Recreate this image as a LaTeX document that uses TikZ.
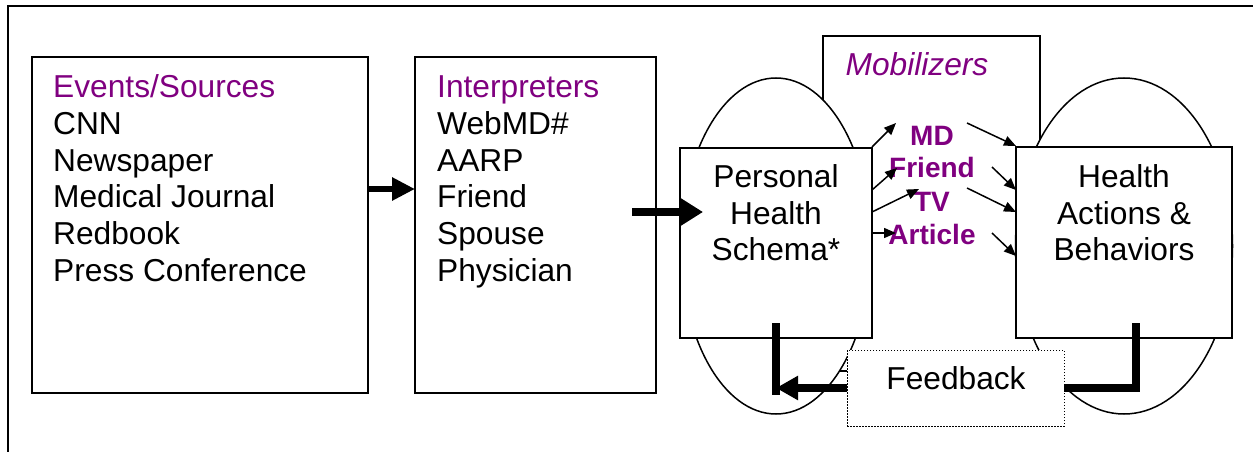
\documentclass[tikz,border=0pt]{standalone}
\usepackage{fontspec}
\setmainfont{Liberation Sans}
\usetikzlibrary{arrows.meta,shapes.geometric}
\definecolor{mpurple}{HTML}{800080}
\begin{document}
\begin{tikzpicture}[x=1pt,y=-1pt,
  box/.style={draw,line width=2pt,fill=white,inner sep=0pt,outer sep=0pt,anchor=north west},
  oval/.style={draw,line width=1.5pt,fill=white,ellipse,inner sep=0pt,outer sep=0pt},
  txt/.style={inner sep=0pt,font=\fontsize{31.7}{36}\selectfont},
  lbl/.style={inner sep=0pt,font=\bfseries\fontsize{28}{33}\selectfont,text=mpurple,anchor=base},
  bigarrow/.style={line width=6pt,-{Triangle[length=23pt,width=22pt]}},
  fbline/.style={line width=8pt,line join=miter},
  small/.style={line width=1.5pt,-{Triangle[length=12pt,width=10pt]}}]
\useasboundingbox (0,0) rectangle (1253,452);
% outer frame
\draw[line width=2pt] (8,470) -- (8,6.5) -- (1270,6.5);
% mobilizers box (behind)
\node[box,minimum width=217pt,minimum height=335pt] (mob) at (823,36) {};
% ellipses
\node[oval,minimum width=190pt,minimum height=336pt] (ell1) at (776,246) {};
\node[oval,minimum width=217pt,minimum height=336pt] (ell2) at (1124,246) {};
% main boxes
\node[box,minimum width=336pt,minimum height=336pt] (b1) at (32,57) {};
\node[box,minimum width=241pt,minimum height=336pt] (b2) at (415,57) {};
\node[box,minimum width=192pt,minimum height=190pt] (phs) at (680,148) {};
\node[box,minimum width=216pt,minimum height=191pt] (hab) at (1016,147) {};
% feedback box
\node[draw,line width=1pt,dash pattern=on 1.5pt off 1.5pt,fill=white,inner sep=0pt,outer sep=0pt,
      minimum width=217pt,minimum height=76pt,anchor=north west] (fb) at (847,350) {};
\node[txt,anchor=base] (fbt) at (956,389) {Feedback};
% texts box 1
\node[txt,anchor=base west,text=mpurple] (e0) at (53,97) {Events/Sources};
\node[txt,anchor=base west] (e1) at (53,134) {CNN};
\node[txt,anchor=base west] (e2) at (53,171) {Newspaper};
\node[txt,anchor=base west] (e3) at (53,207) {Medical Journal};
\node[txt,anchor=base west] (e4) at (53,244) {Redbook};
\node[txt,anchor=base west] (e5) at (53,281) {Press Conference};
% texts box 2
\node[txt,anchor=base west,text=mpurple] (i0) at (437,97) {Interpreters};
\node[txt,anchor=base west] (i1) at (437,134) {WebMD\#};
\node[txt,anchor=base west] (i2) at (437,171) {AARP};
\node[txt,anchor=base west] (i3) at (437,207) {Friend};
\node[txt,anchor=base west] (i4) at (437,244) {Spouse};
\node[txt,anchor=base west] (i5) at (437,281) {Physician};
% PHS text
\node[txt,anchor=base] (p1) at (776,187) {Personal};
\node[txt,anchor=base] (p2) at (776,224) {Health};
\node[txt,anchor=base] (p3) at (776,260) {Schema*};
% HAB text
\node[txt,anchor=base] (h1) at (1124,187) {Health};
\node[txt,anchor=base] (h2) at (1124,224) {Actions \&};
\node[txt,anchor=base] (h3) at (1124,260) {Behaviors};
% mobilizers
\node[txt,anchor=base,text=mpurple,font=\itshape\fontsize{31.7}{36}\selectfont] (mobt) at (917,76) {Mobilizers};
\node[lbl] (md) at (932,145) {MD};
\node[lbl] (fr) at (932,177) {Friend};
\node[lbl] (tv) at (932,211) {TV};
\node[lbl] (ar) at (932,244) {Article};
% big arrows
\draw[bigarrow] ([yshift=-132pt]b1.north east) -- ([yshift=-132pt]b2.north west);
\draw[bigarrow,line width=8pt,-{Triangle[length=23pt,width=27pt]}] ([xshift=-24pt,yshift=13pt]b2.east) -- ([xshift=23pt,yshift=31pt]phs.west);
% small arrows PHS -> mobilizers
\coordinate (m1) at (896,123);
\coordinate (m2) at (897,168);
\coordinate (m3) at (919,189);
\coordinate (m4) at (896,233);
\draw[small] ([yshift=1pt]phs.north east) -- (m1);
\draw[small] ([yshift=-42pt]phs.north east) -- (m2);
\draw[small] ([yshift=-64pt]phs.north east) -- (m3);
\draw[small] ([yshift=-85pt]phs.north east) -- (m4);
% small arrows mobilizers -> HAB
\coordinate (n1) at (967,123);
\coordinate (n2) at (992,167);
\coordinate (n3) at (967,188);
\coordinate (n4) at (992,233);
\draw[small] (n1) -- ([yshift=1pt]hab.north west);
\draw[small] (n2) -- ([yshift=-43pt]hab.north west);
\draw[small] (n3) -- ([yshift=-65pt]hab.north west);
\draw[small] (n4) -- ([yshift=-109pt]hab.north west);
% feedback loop
\coordinate (fr1) at (1136,323);
\draw[fbline] (fr1) |- (fb.east);
\coordinate (fl1) at (776,323);
\coordinate (fl2) at (776,395);
\draw[fbline] (fl1) -- (fl2);
\draw[fbline,-{Triangle[length=22pt,width=23pt]}] (fb.west) -- (fl1 |- fb.west);
\end{tikzpicture}
\end{document}
